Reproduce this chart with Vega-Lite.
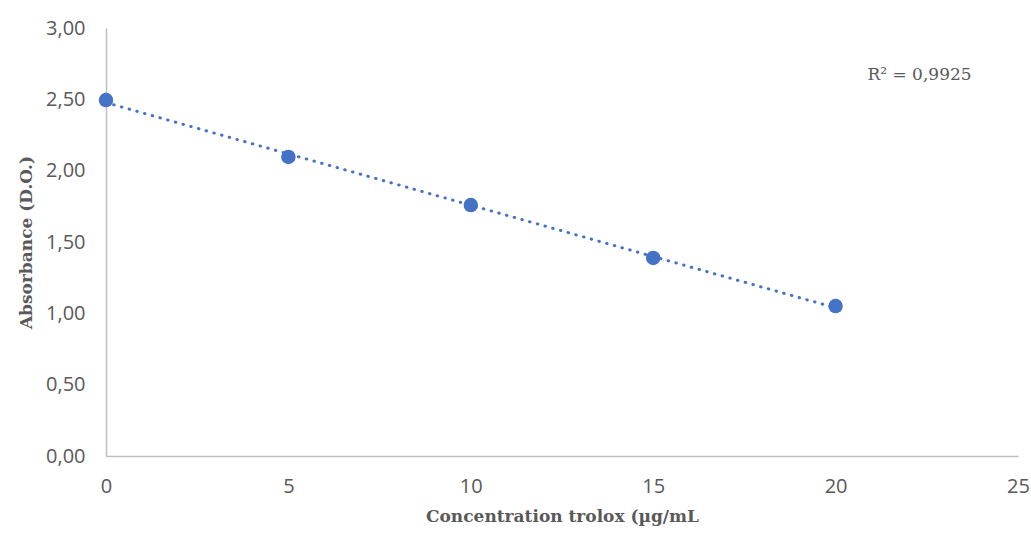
{
  "$schema": "https://vega.github.io/schema/vega-lite/v6.json",
  "autosize": "none",
  "width": 912,
  "height": 428,
  "padding": {"left": 106, "top": 28, "right": 13, "bottom": 78},
  "background": "white",
  "config": {"view": {"stroke": null}},
  "datasets": {
    "pts": [
      {"conc": 0, "abs": 2.495},
      {"conc": 5, "abs": 2.096},
      {"conc": 10, "abs": 1.759},
      {"conc": 15, "abs": 1.388},
      {"conc": 20, "abs": 1.051}
    ],
    "lbl": [{"conc": 22.3, "abs": 2.67, "text": "R² = 0,9925"}]
  },
  "layer": [
    {
      "data": {"name": "pts"},
      "transform": [{"regression": "abs", "on": "conc", "extent": [0, 20]}],
      "mark": {"type": "line", "color": "#4472C4", "strokeWidth": 3, "strokeCap": "round", "strokeDash": [0.5, 7.5]},
      "encoding": {
        "x": {"field": "conc", "type": "quantitative"},
        "y": {"field": "abs", "type": "quantitative"}
      }
    },
    {
      "data": {"name": "pts"},
      "mark": {"type": "circle", "color": "#4472C4", "opacity": 1, "size": 210},
      "encoding": {
        "x": {
          "field": "conc", "type": "quantitative",
          "scale": {"domain": [0, 25], "nice": false},
          "axis": {
            "values": [0, 5, 10, 15, 20, 25],
            "title": "Concentration trolox (µg/mL",
            "grid": false, "ticks": false, "labelFlush": false,
            "domainColor": "#bfbfbf", "domainWidth": 1.5,
            "labelFont": "Open Sans", "labelFontSize": 20, "labelColor": "#595959",
            "labelPadding": 20,
            "titleFont": "DejaVu Serif", "titleFontSize": 17, "titleFontWeight": "bold", "titleColor": "#595959",
            "titlePadding": 12
          }
        },
        "y": {
          "field": "abs", "type": "quantitative",
          "scale": {"domain": [0, 3], "nice": false},
          "axis": {
            "values": [0, 0.5, 1, 1.5, 2, 2.5, 3],
            "labelExpr": "replace(format(datum.value, '.2f'), '.', ',')",
            "title": "Absorbance (D.O.)",
            "grid": false, "ticks": false, "labelFlush": false,
            "domainColor": "#bfbfbf", "domainWidth": 1.5,
            "labelFont": "Open Sans", "labelFontSize": 20, "labelColor": "#595959",
            "labelPadding": 21,
            "titleFont": "DejaVu Serif", "titleFontSize": 17, "titleFontWeight": "bold", "titleColor": "#595959",
            "titlePadding": 10
          }
        }
      }
    },
    {
      "data": {"name": "lbl"},
      "mark": {"type": "text", "font": "DejaVu Serif", "fontSize": 17, "color": "#595959", "align": "center", "baseline": "middle"},
      "encoding": {
        "x": {"field": "conc", "type": "quantitative"},
        "y": {"field": "abs", "type": "quantitative"},
        "text": {"field": "text"}
      }
    }
  ]
}
